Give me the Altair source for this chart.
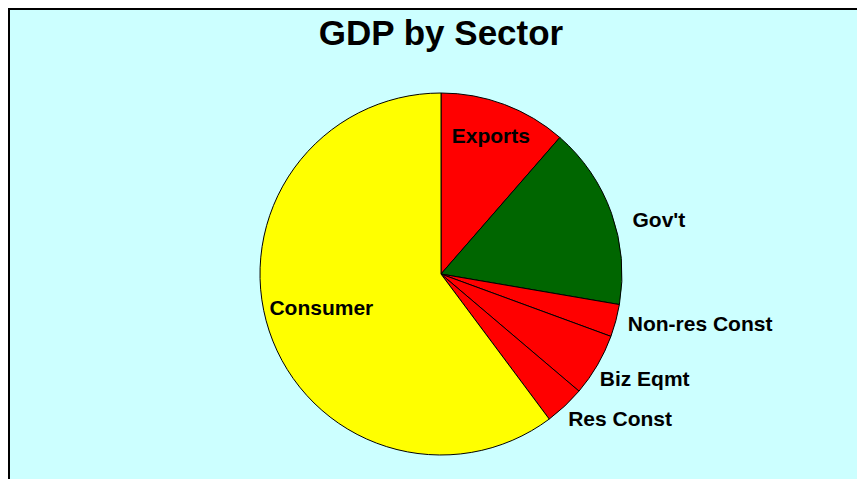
import altair as alt
import pandas as pd

# ---- data ----
categories = ["Exports", "Gov't", "Non-res Const", "Biz Eqmt", "Res Const", "Consumer"]
shares = [11.4, 16.3, 2.9, 5.6, 3.6, 60.2]
colors = ["#FF0000", "#006600", "#FF0000", "#FF0000", "#FF0000", "#FFFF00"]
title_text = "GDP by Sector"

df = pd.DataFrame({"sector": categories, "share": shares, "idx": list(range(len(categories)))})

FONT = "Liberation Sans"
W, H = 849, 471
CX, CY, R = 433, 266, 181

pie = alt.Chart(df).mark_arc(radius=R, stroke="black", strokeWidth=1).encode(
    theta=alt.Theta("share:Q", stack=True),
    order=alt.Order("idx:Q"),
    color=alt.Color("sector:N", scale=alt.Scale(domain=categories, range=colors), legend=None),
    x=alt.value(CX),
    y=alt.value(CY),
)

lbl_base = (
    alt.Chart(df)
    .transform_window(cum="sum(share)", sort=[alt.SortField("idx")])
    .transform_joinaggregate(total="sum(share)")
    .transform_calculate(mid="(datum.cum - datum.share / 2) / datum.total")
)

# label placement style: radius, dx, dy, align
label_style = {
    "Exports": (145, -1, 5, "center"),
    "Gov't": (215, -11, 25, "left"),
    "Non-res Const": (215, -21, 2, "left"),
    "Biz Eqmt": (215, -27, 4, "left"),
    "Res Const": (215, -20, -5, "left"),
    "Consumer": (125, -1, 2, "center"),
}

one = pd.DataFrame({"t": [title_text]})

frame_top = alt.Chart(one).mark_rule(color="black", strokeWidth=3).encode(
    x=alt.value(0), x2=alt.value(W), y=alt.value(0.5)
)
frame_left = alt.Chart(one).mark_rule(color="black", strokeWidth=3).encode(
    x=alt.value(0.5), y=alt.value(0), y2=alt.value(H)
)
title = alt.Chart(one).mark_text(
    font=FONT, fontSize=35, fontWeight="bold", color="black", align="center", baseline="alphabetic"
).encode(text="t:N", x=alt.value(CX), y=alt.value(37))

layers = [pie]
for name in categories:
    r, dx, dy, al = label_style[name]
    layers.append(
        lbl_base.transform_filter(alt.datum.sector == name)
        .mark_text(radius=r, dx=dx, dy=dy, align=al, baseline="alphabetic",
                   font=FONT, fontSize=21, fontWeight="bold", color="black")
        .encode(
            theta=alt.Theta("mid:Q", stack=False, scale=alt.Scale(domain=[0, 1])),
            text="sector:N",
            x=alt.value(CX),
            y=alt.value(CY),
        )
    )
layers += [title, frame_top, frame_left]

chart = (
    alt.layer(*layers)
    .resolve_scale(theta="independent")
    .properties(
        width=W,
        height=H,
        padding=0,
        autosize=alt.AutoSizeParams(type="none"),
        background="#CCFFFF",
    )
    .configure_view(fill="#CCFFFF", stroke=None)
)

chart.save("out.html", embed_options={"renderer": "svg", "actions": False})
